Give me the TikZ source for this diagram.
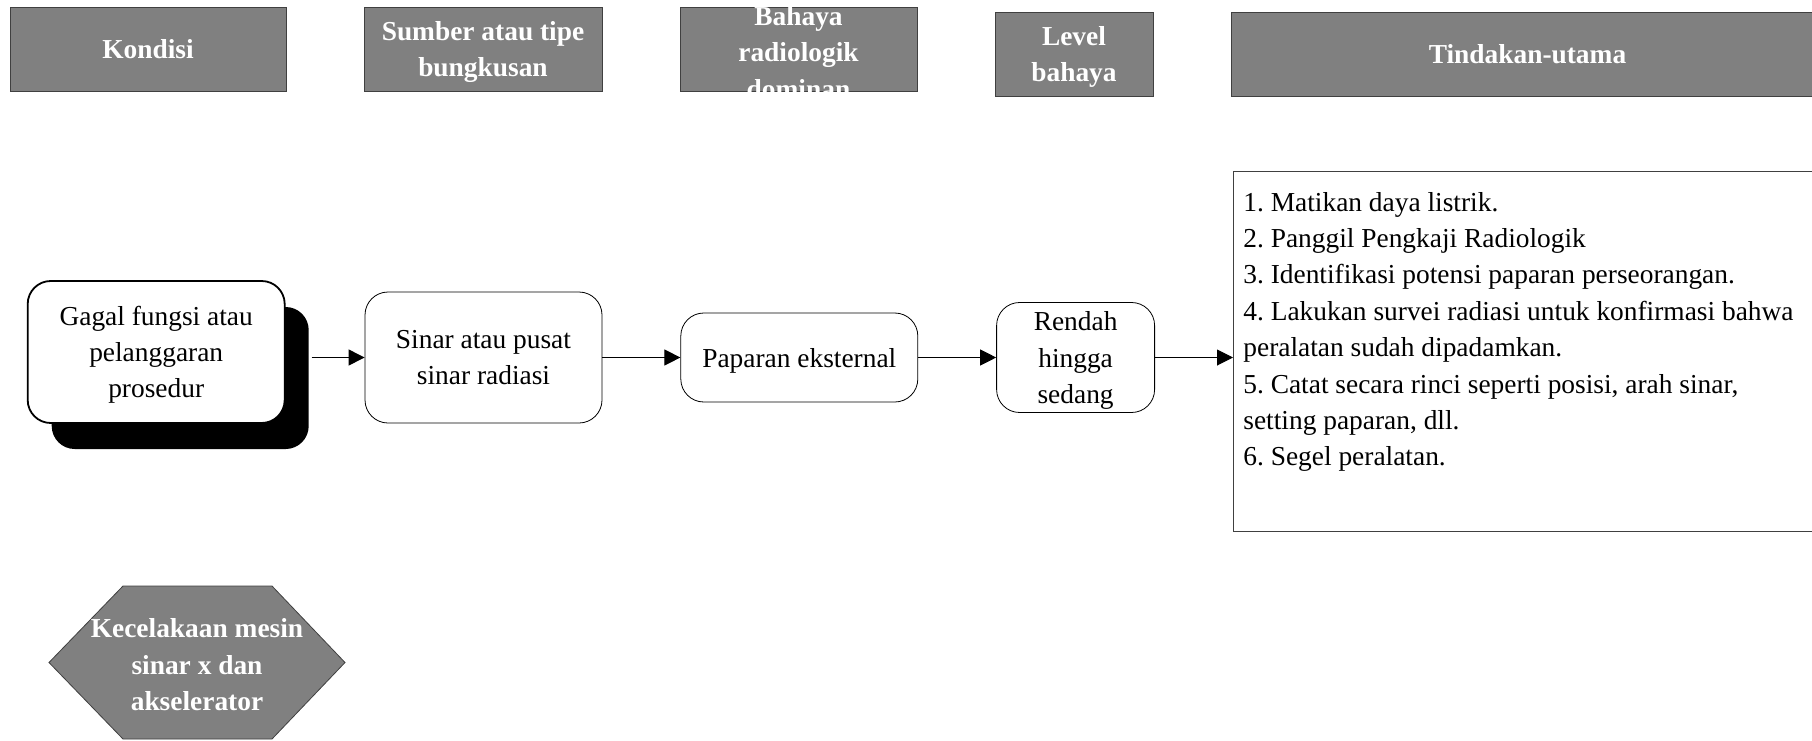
\documentclass[tikz,border=0pt]{standalone}
\usepackage{amsmath}
\usepackage{fontspec}
\setmainfont{Liberation Serif}
\usetikzlibrary{positioning,arrows.meta,shadows}

\newcommand{\chartfont}{\fontsize{13.7}{18.2}\selectfont\frenchspacing}
\newcommand{\tallstrut}{\rule{0pt}{12.5pt}}

\begin{document}
\begin{tikzpicture}[x=0.5pt, y=-0.5pt,
        header/.style={shape=rectangle, draw=black!75, fill=gray, text=white,
            font=\chartfont\bfseries, align=center, minimum height=42pt, inner sep=0pt},
        flowbox/.style={shape=rectangle, rounded corners=11.5pt, draw, fill=white,
            font=\chartfont, align=center, inner sep=0pt, minimum width=118.5pt},
        flow/.style={-{Triangle[length=8pt, width=8pt]}, line width=0.5pt}]
    \useasboundingbox (0,0) rectangle (1812,740);

    % column headers
    \node[header, minimum width=138pt] (Kondisi) at (148,49) {Kondisi};
    \node[header, minimum width=119pt] (Sumber) at (483,49) {\tallstrut Sumber atau tipe\\bungkusan};
    \node[header, minimum width=118.5pt] (Bahaya) at (798.5,49) {};
    \node[header, draw=none, fill=none] (BahayaText) at (798.5,52.5) {Bahaya\\radiologik\\dominan};
    \node[header, minimum width=79pt] (Level) at (1074,54) {\tallstrut Level\\bahaya};
    \node[header, minimum width=296.5pt] (Tindakan) at (1527.5,54) {Tindakan-utama};

    \begin{scope}[node distance=39pt]
        \node[flowbox, minimum height=65.5pt] (Sinar) at (483.5,357.5) {Sinar atau pusat\\sinar radiasi};
        \node[flowbox, minimum width=128.5pt, minimum height=71pt, line width=0.9pt,
            drop shadow={shadow xshift=12pt, shadow yshift=-13pt, fill=black, opacity=1}]
            (Gagal) [left=39.5pt of Sinar, yshift=2.75pt] {\tallstrut Gagal fungsi atau\\pelanggaran\\prosedur};
        \node[flowbox, minimum height=44.5pt] (Paparan) [right=of Sinar] {\tallstrut Paparan eksternal};
        \node[flowbox, minimum width=79pt, minimum height=55pt] (Rendah) [right=of Paparan] {\tallstrut Rendah\\hingga\\sedang};
        \node[shape=rectangle, draw=black!75, minimum width=296.5pt, minimum height=180pt]
            (Langkah) [right=of Rendah, yshift=3pt] {};
    \end{scope}
    \node[anchor=north west, inner sep=0pt, align=left, font=\chartfont] (Daftar)
        at ([xshift=5pt, yshift=-10.3pt]Langkah.north west)
        {1. Matikan daya listrik.\\
         2. Panggil Pengkaji Radiologik\\
         3. Identifikasi potensi paparan perseorangan.\\
         4. Lakukan survei radiasi untuk konfirmasi bahwa\\
         peralatan sudah dipadamkan.\\
         5. Catat secara rinci seperti posisi, arah sinar,\\
         setting paparan, dll.\\
         6. Segel peralatan.};

    \coordinate (GagalOut) at ([xshift=13pt]Gagal.east);
    \draw[flow] (GagalOut |- Sinar.west) -- (Sinar.west);
    \draw[flow] (Sinar) -- (Paparan);
    \draw[flow] (Paparan) -- (Rendah);
    \draw[flow] (Rendah.east) -- (Rendah.east -| Langkah.west);

    % hexagon
    \draw[draw=black!75, fill=gray] (49,662.5) -- (123,586) -- (272,586) -- (345,662.5)
        -- (272,739) -- (123,739) -- cycle;
    \node[header, draw=none, fill=none] (Kecelakaan) at (197,662) {\tallstrut Kecelakaan mesin\\sinar x dan\\akselerator};
\end{tikzpicture}
\end{document}
